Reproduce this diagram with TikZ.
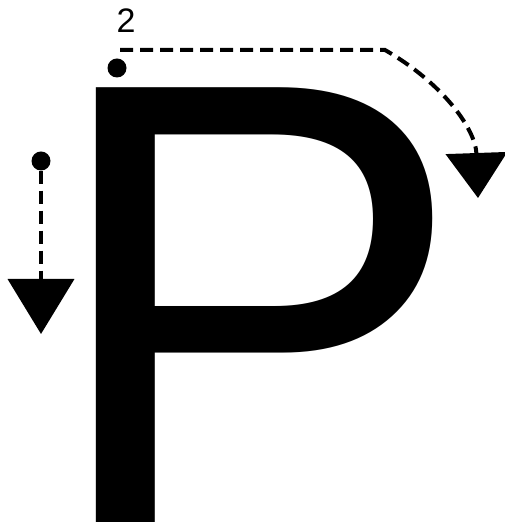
\documentclass[tikz,border=0pt]{standalone}
\usepackage{fontspec}
\setmainfont{Liberation Sans}
\usepackage{tikz}
\usetikzlibrary{arrows.meta}

\begin{document}
\begin{tikzpicture}[x=1pt,y=1pt,
  startdot/.style={circle,fill=black,inner sep=0pt,minimum size=19pt},
  strokeline/.style={line width=4pt,dash pattern=on 13pt off 7pt}]
  \useasboundingbox (0,0) rectangle (505,530);
  % Letter
  \node[anchor=base west,inner sep=0pt,font=\fontsize{632pt}{632pt}\selectfont] (letter) at (44.5,8) {P};
  % Stroke 1: stem
  \node[startdot] (dot one) at (41,369) {};
  \coordinate (stem tip) at (41,196);
  \draw[strokeline,-{Triangle[width=66pt,length=55pt]}] (dot one) -- (stem tip);
  % Stroke 2: bowl
  \node[startdot] (dot two) at (117,462) {};
  \node[font=\fontsize{34pt}{40pt}\selectfont,inner sep=0pt] (label two) at (126,509) {2};
  \coordinate (bowl start) at (120,480);
  \coordinate (bowl turn) at (385,480);
  \coordinate (bowl tip) at (478,332);
  \draw[strokeline,-{Triangle[width=61pt,length=45pt]}] (bowl start) -- (bowl turn) to[out=-30,in=92] (bowl tip);
\end{tikzpicture}
\end{document}
